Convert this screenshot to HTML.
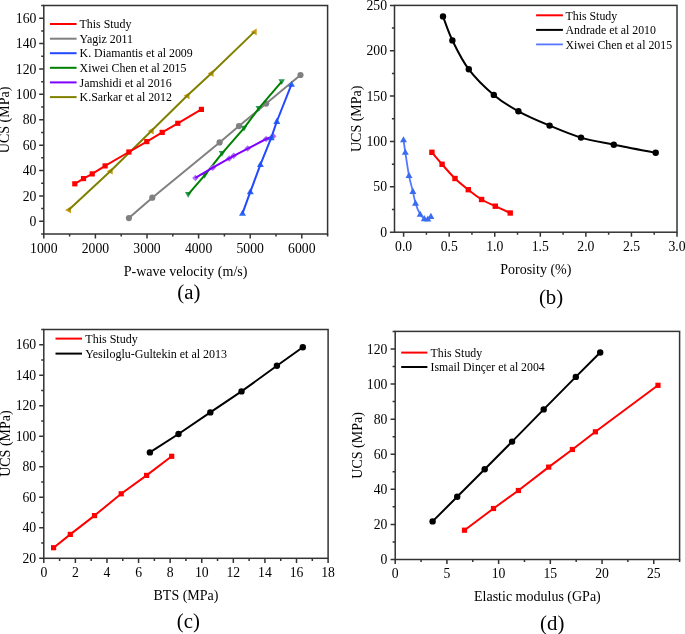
<!DOCTYPE html>
<html><head><meta charset="utf-8"><style>
html,body{margin:0;padding:0;background:#fff;}
svg{display:block;will-change:transform;}
text{font-family:"Liberation Serif",serif;fill:#000;}
</style></head><body>
<svg width="685" height="634" viewBox="0 0 685 634">
<path d="M43.8 234v4.6M95.4 234v4.6M147 234v4.6M198.6 234v4.6M250.2 234v4.6M301.8 234v4.6M69.6 234v2.6M121.2 234v2.6M172.8 234v2.6M224.4 234v2.6M276 234v2.6M327.6 234v2.6" stroke="#333" stroke-width="1.5" fill="none"/>
<text x="43.8" y="252.6" text-anchor="middle" font-size="13.7">1000</text>
<text x="95.4" y="252.6" text-anchor="middle" font-size="13.7">2000</text>
<text x="147" y="252.6" text-anchor="middle" font-size="13.7">3000</text>
<text x="198.6" y="252.6" text-anchor="middle" font-size="13.7">4000</text>
<text x="250.2" y="252.6" text-anchor="middle" font-size="13.7">5000</text>
<text x="301.8" y="252.6" text-anchor="middle" font-size="13.7">6000</text>
<path d="M43.8 221.31h-4.6M43.8 195.92h-4.6M43.8 170.53h-4.6M43.8 145.14h-4.6M43.8 119.75h-4.6M43.8 94.36h-4.6M43.8 68.97h-4.6M43.8 43.58h-4.6M43.8 18.19h-4.6M43.8 234h-2.6M43.8 208.61h-2.6M43.8 183.22h-2.6M43.8 157.83h-2.6M43.8 132.44h-2.6M43.8 107.06h-2.6M43.8 81.67h-2.6M43.8 56.28h-2.6M43.8 30.89h-2.6M43.8 5.5h-2.6" stroke="#333" stroke-width="1.5" fill="none"/>
<text x="36.4" y="225.91" text-anchor="end" font-size="13.7">0</text>
<text x="36.4" y="200.52" text-anchor="end" font-size="13.7">20</text>
<text x="36.4" y="175.13" text-anchor="end" font-size="13.7">40</text>
<text x="36.4" y="149.74" text-anchor="end" font-size="13.7">60</text>
<text x="36.4" y="124.35" text-anchor="end" font-size="13.7">80</text>
<text x="36.4" y="98.96" text-anchor="end" font-size="13.7">100</text>
<text x="36.4" y="73.57" text-anchor="end" font-size="13.7">120</text>
<text x="36.4" y="48.18" text-anchor="end" font-size="13.7">140</text>
<text x="36.4" y="22.79" text-anchor="end" font-size="13.7">160</text>
<rect x="43.8" y="5.5" width="283.8" height="228.5" fill="none" stroke="#333" stroke-width="1.5"/>
<g fill="#808080"><circle cx="128.9" cy="218.1" r="3.1"/><circle cx="152.3" cy="197.7" r="3.1"/><circle cx="219.6" cy="142.4" r="3.1"/><circle cx="239" cy="126.1" r="3.1"/><circle cx="266.2" cy="103.6" r="3.1"/><circle cx="300.5" cy="75" r="3.1"/></g>
<path d="M128.9 218.1 L152.3 197.7 L219.6 142.4 L239 126.1 L266.2 103.6 L300.5 75" stroke="#808080" stroke-width="2.0" fill="none" stroke-linejoin="round"/>
<g fill="#c89a10"><path d="M65.05 209.9L70.97 206.5L70.97 213.3Z"/><path d="M106.75 171.2L112.67 167.8L112.67 174.6Z"/><path d="M147.75 131L153.67 127.6L153.67 134.4Z"/><path d="M183.55 95.8L189.47 92.4L189.47 99.2Z"/><path d="M207.65 73.5L213.57 70.1L213.57 76.9Z"/><path d="M250.75 31.9L256.67 28.5L256.67 35.3Z"/></g>
<path d="M68.6 209.9 L110.3 171.2 L151.3 131 L187.1 95.8 L211.2 73.5 L254.3 31.9" stroke="#808000" stroke-width="2.0" fill="none" stroke-linejoin="round"/>
<g fill="#ff0000"><rect x="72.2" y="181.2" width="5.2" height="5.2"/><rect x="80.9" y="176" width="5.2" height="5.2"/><rect x="89.6" y="171.3" width="5.2" height="5.2"/><rect x="102.5" y="163.3" width="5.2" height="5.2"/><rect x="126.3" y="149.4" width="5.2" height="5.2"/><rect x="144.2" y="139" width="5.2" height="5.2"/><rect x="159.6" y="129.8" width="5.2" height="5.2"/><rect x="175.2" y="120.7" width="5.2" height="5.2"/><rect x="198.8" y="106.8" width="5.2" height="5.2"/></g>
<path d="M74.8 183.8 L83.5 178.6 L92.2 173.9 L105.1 165.9 L128.9 152 L146.8 141.6 L162.2 132.4 L177.8 123.3 L201.4 109.4" stroke="#ff0000" stroke-width="2.0" fill="none" stroke-linejoin="round"/>
<g fill="#2a9a55"><path d="M188.2 197.69L191.45 192.04L184.95 192.04Z"/><path d="M204.6 178.69L207.85 173.04L201.35 173.04Z"/><path d="M222 156.69L225.25 151.04L218.75 151.04Z"/><path d="M244 131.49L247.25 125.84L240.75 125.84Z"/><path d="M258.8 111.69L262.05 106.04L255.55 106.04Z"/><path d="M281.7 84.99L284.95 79.34L278.45 79.34Z"/></g>
<path d="M188.2 194.3 L204.6 175.3 L222 153.3 L244 128.1 L258.8 108.3 L281.7 81.6" stroke="#008000" stroke-width="2.0" fill="none" stroke-linejoin="round"/>
<g fill="#b070f8"><path d="M195.4 174.65L198.65 177.9L195.4 181.15L192.15 177.9Z"/><path d="M212.8 164.45L216.05 167.7L212.8 170.95L209.55 167.7Z"/><path d="M229.2 155.15L232.45 158.4L229.2 161.65L225.95 158.4Z"/><path d="M233.7 152.55L236.95 155.8L233.7 159.05L230.45 155.8Z"/><path d="M247.7 145.35L250.95 148.6L247.7 151.85L244.45 148.6Z"/><path d="M266.1 135.75L269.35 139L266.1 142.25L262.85 139Z"/><path d="M273.3 133.05L276.55 136.3L273.3 139.55L270.05 136.3Z"/></g>
<path d="M195.4 177.9 L212.8 167.7 L229.2 158.4 L233.7 155.8 L247.7 148.6 L266.1 139 L273.3 136.3" stroke="#8000ff" stroke-width="2.0" fill="none" stroke-linejoin="round"/>
<g fill="#2a6af2"><path d="M242.5 209.75L246 215.84L239 215.84Z"/><path d="M250.3 188.25L253.8 194.34L246.8 194.34Z"/><path d="M260.4 160.95L263.9 167.04L256.9 167.04Z"/><path d="M271.2 134.25L274.7 140.34L267.7 140.34Z"/><path d="M276.8 117.85L280.3 123.94L273.3 123.94Z"/><path d="M291.5 80.75L295 86.84L288 86.84Z"/></g>
<path d="M242.5 213.4 L250.3 191.9 L260.4 164.6 L271.2 137.9 L276.8 121.5 L291.5 84.4" stroke="#2448ff" stroke-width="2.0" fill="none" stroke-linejoin="round"/>
<path d="M49.9 24H76.6" stroke="#ff0000" stroke-width="2"/>
<text x="79.6" y="28.2" font-size="11.88">This Study</text>
<path d="M49.9 38.7H76.6" stroke="#808080" stroke-width="2"/>
<text x="79.6" y="42.9" font-size="11.88">Yagiz 2011</text>
<path d="M49.9 53.2H76.6" stroke="#2448ff" stroke-width="2"/>
<text x="79.6" y="57.4" font-size="11.88">K. Diamantis et al 2009</text>
<path d="M49.9 67.8H76.6" stroke="#008000" stroke-width="2"/>
<text x="79.6" y="72" font-size="11.88">Xiwei Chen et al 2015</text>
<path d="M49.9 82.4H76.6" stroke="#8000ff" stroke-width="2"/>
<text x="79.6" y="86.6" font-size="11.88">Jamshidi et al 2016</text>
<path d="M49.9 97.1H76.6" stroke="#808000" stroke-width="2"/>
<text x="79.6" y="101.3" font-size="11.88">K.Sarkar et al 2012</text>
<text transform="translate(9.4 119.9) rotate(-90)" text-anchor="middle" font-size="14">UCS (MPa)</text>
<text x="185.6" y="276" text-anchor="middle" font-size="14">P-wave velocity (m/s)</text>
<text x="188.8" y="298.6" text-anchor="middle" font-size="20.8">(a)</text>
<path d="M403.61 232.2v4.6M449.18 232.2v4.6M494.74 232.2v4.6M540.31 232.2v4.6M585.87 232.2v4.6M631.44 232.2v4.6M677 232.2v4.6M426.4 232.2v2.6M471.96 232.2v2.6M517.52 232.2v2.6M563.09 232.2v2.6M608.65 232.2v2.6M654.22 232.2v2.6" stroke="#333" stroke-width="1.5" fill="none"/>
<text x="403.61" y="250.7" text-anchor="middle" font-size="13.7">0.0</text>
<text x="449.18" y="250.7" text-anchor="middle" font-size="13.7">0.5</text>
<text x="494.74" y="250.7" text-anchor="middle" font-size="13.7">1.0</text>
<text x="540.31" y="250.7" text-anchor="middle" font-size="13.7">1.5</text>
<text x="585.87" y="250.7" text-anchor="middle" font-size="13.7">2.0</text>
<text x="631.44" y="250.7" text-anchor="middle" font-size="13.7">2.5</text>
<text x="677" y="250.7" text-anchor="middle" font-size="13.7">3.0</text>
<path d="M394.5 232.2h-4.6M394.5 186.84h-4.6M394.5 141.48h-4.6M394.5 96.12h-4.6M394.5 50.76h-4.6M394.5 5.4h-4.6M394.5 209.52h-2.6M394.5 164.16h-2.6M394.5 118.8h-2.6M394.5 73.44h-2.6M394.5 28.08h-2.6" stroke="#333" stroke-width="1.5" fill="none"/>
<text x="387" y="236.8" text-anchor="end" font-size="13.7">0</text>
<text x="387" y="191.44" text-anchor="end" font-size="13.7">50</text>
<text x="387" y="146.08" text-anchor="end" font-size="13.7">100</text>
<text x="387" y="100.72" text-anchor="end" font-size="13.7">150</text>
<text x="387" y="55.36" text-anchor="end" font-size="13.7">200</text>
<text x="387" y="10" text-anchor="end" font-size="13.7">250</text>
<rect x="394.5" y="5.4" width="282.5" height="226.8" fill="none" stroke="#333" stroke-width="1.5"/>
<path d="M443 16.4 C444.57 20.4 448.1 31.58 452.4 40.4 C456.7 49.22 461.9 60.22 468.8 69.3 C475.7 78.38 485.53 87.9 493.8 94.9 C502.07 101.9 509.1 106.18 518.4 111.3 C527.7 116.42 539.17 121.22 549.6 125.6 C560.03 129.98 570.3 134.42 581 137.6 C591.7 140.78 601.35 142.18 613.8 144.7 C626.25 147.22 648.72 151.37 655.7 152.7" stroke="#000" stroke-width="2.0" fill="none" stroke-linejoin="round"/>
<g fill="#000"><circle cx="443" cy="16.4" r="3.2"/><circle cx="452.4" cy="40.4" r="3.2"/><circle cx="468.8" cy="69.3" r="3.2"/><circle cx="493.8" cy="94.9" r="3.2"/><circle cx="518.4" cy="111.3" r="3.2"/><circle cx="549.6" cy="125.6" r="3.2"/><circle cx="581" cy="137.6" r="3.2"/><circle cx="613.8" cy="144.7" r="3.2"/><circle cx="655.7" cy="152.7" r="3.2"/></g>
<path d="M431.9 152.3 C433.6 154.3 438.25 159.93 442.1 164.3 C445.95 168.67 450.63 174.27 455 178.5 C459.37 182.73 463.87 186.2 468.3 189.7 C472.73 193.2 477.1 196.75 481.6 199.5 C486.1 202.25 490.53 203.95 495.3 206.2 C500.07 208.45 507.72 211.87 510.2 213" stroke="#ff0000" stroke-width="2.0" fill="none" stroke-linejoin="round"/>
<g fill="#ff0000"><rect x="429.2" y="149.6" width="5.4" height="5.4"/><rect x="439.4" y="161.6" width="5.4" height="5.4"/><rect x="452.3" y="175.8" width="5.4" height="5.4"/><rect x="465.6" y="187" width="5.4" height="5.4"/><rect x="478.9" y="196.8" width="5.4" height="5.4"/><rect x="492.6" y="203.5" width="5.4" height="5.4"/><rect x="507.5" y="210.3" width="5.4" height="5.4"/></g>
<path d="M403.5 139.8 C403.8 141.88 404.38 146.33 405.3 152.3 C406.22 158.27 407.73 169.07 409 175.6 C410.27 182.13 411.82 186.9 412.9 191.5 C413.98 196.1 414.28 199.38 415.5 203.2 C416.72 207.02 418.73 211.82 420.2 214.4 C421.67 216.98 423.03 217.92 424.3 218.7 C425.57 219.48 426.7 219.47 427.8 219.1 C428.9 218.73 430.38 216.93 430.9 216.5" stroke="#5577ff" stroke-width="1.8" fill="none" stroke-linejoin="round"/>
<g fill="#3a6cf0"><path d="M403.5 136.15L407 142.24L400 142.24Z"/><path d="M405.3 148.65L408.8 154.74L401.8 154.74Z"/><path d="M409 171.95L412.5 178.04L405.5 178.04Z"/><path d="M412.9 187.85L416.4 193.94L409.4 193.94Z"/><path d="M415.5 199.55L419 205.64L412 205.64Z"/><path d="M420.2 210.75L423.7 216.84L416.7 216.84Z"/><path d="M424.3 215.05L427.8 221.14L420.8 221.14Z"/><path d="M427.8 215.45L431.3 221.54L424.3 221.54Z"/><path d="M430.9 212.85L434.4 218.94L427.4 218.94Z"/></g>
<path d="M536.1 15.3H562.9" stroke="#ff0000" stroke-width="2"/>
<text x="565.5" y="19.5" font-size="11.85">This Study</text>
<path d="M536.1 29.9H562.9" stroke="#000" stroke-width="2"/>
<text x="565.5" y="34.1" font-size="11.85">Andrade et al 2010</text>
<path d="M536.1 44.4H562.9" stroke="#5577ff" stroke-width="1.8"/>
<text x="565.5" y="48.6" font-size="11.85">Xiwei Chen et al 2015</text>
<text transform="translate(361 118.8) rotate(-90)" text-anchor="middle" font-size="14">UCS (MPa)</text>
<text x="535.8" y="274" text-anchor="middle" font-size="14">Porosity (%)</text>
<text x="551" y="304" text-anchor="middle" font-size="20.8">(b)</text>
<path d="M43.8 558.3v4.6M75.39 558.3v4.6M106.98 558.3v4.6M138.57 558.3v4.6M170.16 558.3v4.6M201.74 558.3v4.6M233.33 558.3v4.6M264.92 558.3v4.6M296.51 558.3v4.6M328.1 558.3v4.6M59.59 558.3v2.6M91.18 558.3v2.6M122.77 558.3v2.6M154.36 558.3v2.6M185.95 558.3v2.6M217.54 558.3v2.6M249.13 558.3v2.6M280.72 558.3v2.6M312.31 558.3v2.6" stroke="#333" stroke-width="1.5" fill="none"/>
<text x="43.8" y="576.8" text-anchor="middle" font-size="13.7">0</text>
<text x="75.39" y="576.8" text-anchor="middle" font-size="13.7">2</text>
<text x="106.98" y="576.8" text-anchor="middle" font-size="13.7">4</text>
<text x="138.57" y="576.8" text-anchor="middle" font-size="13.7">6</text>
<text x="170.16" y="576.8" text-anchor="middle" font-size="13.7">8</text>
<text x="201.74" y="576.8" text-anchor="middle" font-size="13.7">10</text>
<text x="233.33" y="576.8" text-anchor="middle" font-size="13.7">12</text>
<text x="264.92" y="576.8" text-anchor="middle" font-size="13.7">14</text>
<text x="296.51" y="576.8" text-anchor="middle" font-size="13.7">16</text>
<text x="328.1" y="576.8" text-anchor="middle" font-size="13.7">18</text>
<path d="M43.8 558.3h-4.6M43.8 527.79h-4.6M43.8 497.29h-4.6M43.8 466.78h-4.6M43.8 436.27h-4.6M43.8 405.77h-4.6M43.8 375.26h-4.6M43.8 344.75h-4.6M43.8 543.05h-2.6M43.8 512.54h-2.6M43.8 482.03h-2.6M43.8 451.53h-2.6M43.8 421.02h-2.6M43.8 390.51h-2.6M43.8 360.01h-2.6M43.8 329.5h-2.6" stroke="#333" stroke-width="1.5" fill="none"/>
<text x="36.2" y="562.9" text-anchor="end" font-size="13.7">20</text>
<text x="36.2" y="532.39" text-anchor="end" font-size="13.7">40</text>
<text x="36.2" y="501.89" text-anchor="end" font-size="13.7">60</text>
<text x="36.2" y="471.38" text-anchor="end" font-size="13.7">80</text>
<text x="36.2" y="440.87" text-anchor="end" font-size="13.7">100</text>
<text x="36.2" y="410.37" text-anchor="end" font-size="13.7">120</text>
<text x="36.2" y="379.86" text-anchor="end" font-size="13.7">140</text>
<text x="36.2" y="349.35" text-anchor="end" font-size="13.7">160</text>
<rect x="43.8" y="329.5" width="284.3" height="228.8" fill="none" stroke="#333" stroke-width="1.5"/>
<path d="M149.9 452.4 L178.5 434 L210.3 412.4 L241.5 391.4 L276.9 365.8 L302.8 347.2" stroke="#000" stroke-width="2.0" fill="none" stroke-linejoin="round"/>
<g fill="#000"><circle cx="149.9" cy="452.4" r="3.2"/><circle cx="178.5" cy="434" r="3.2"/><circle cx="210.3" cy="412.4" r="3.2"/><circle cx="241.5" cy="391.4" r="3.2"/><circle cx="276.9" cy="365.8" r="3.2"/><circle cx="302.8" cy="347.2" r="3.2"/></g>
<path d="M53.6 547.7 L70.3 534.4 L94.5 515.6 L121.2 493.8 L146.6 475.4 L171.7 456.3" stroke="#ff0000" stroke-width="2.0" fill="none" stroke-linejoin="round"/>
<g fill="#ff0000"><rect x="51" y="545.1" width="5.2" height="5.2"/><rect x="67.7" y="531.8" width="5.2" height="5.2"/><rect x="91.9" y="513" width="5.2" height="5.2"/><rect x="118.6" y="491.2" width="5.2" height="5.2"/><rect x="144" y="472.8" width="5.2" height="5.2"/><rect x="169.1" y="453.7" width="5.2" height="5.2"/></g>
<path d="M55.5 338.6H82" stroke="#ff0000" stroke-width="2"/>
<text x="85.3" y="342.8" font-size="12">This Study</text>
<path d="M55.5 353.6H82" stroke="#000" stroke-width="2"/>
<text x="85.3" y="357.8" font-size="12">Yesiloglu-Gultekin et al 2013</text>
<text transform="translate(9.9 443.6) rotate(-90)" text-anchor="middle" font-size="14">UCS (MPa)</text>
<text x="186" y="600.1" text-anchor="middle" font-size="14">BTS (MPa)</text>
<text x="188.4" y="627.8" text-anchor="middle" font-size="20.8">(c)</text>
<path d="M395.2 559.5v4.6M446.91 559.5v4.6M498.62 559.5v4.6M550.33 559.5v4.6M602.04 559.5v4.6M653.75 559.5v4.6M421.05 559.5v2.6M472.76 559.5v2.6M524.47 559.5v2.6M576.18 559.5v2.6M627.89 559.5v2.6M679.6 559.5v2.6" stroke="#333" stroke-width="1.5" fill="none"/>
<text x="395.2" y="578" text-anchor="middle" font-size="13.7">0</text>
<text x="446.91" y="578" text-anchor="middle" font-size="13.7">5</text>
<text x="498.62" y="578" text-anchor="middle" font-size="13.7">10</text>
<text x="550.33" y="578" text-anchor="middle" font-size="13.7">15</text>
<text x="602.04" y="578" text-anchor="middle" font-size="13.7">20</text>
<text x="653.75" y="578" text-anchor="middle" font-size="13.7">25</text>
<path d="M395.2 559.5h-4.6M395.2 524.41h-4.6M395.2 489.32h-4.6M395.2 454.22h-4.6M395.2 419.13h-4.6M395.2 384.04h-4.6M395.2 348.95h-4.6M395.2 541.95h-2.6M395.2 506.86h-2.6M395.2 471.77h-2.6M395.2 436.68h-2.6M395.2 401.58h-2.6M395.2 366.49h-2.6M395.2 331.4h-2.6" stroke="#333" stroke-width="1.5" fill="none"/>
<text x="387.4" y="564.1" text-anchor="end" font-size="13.7">0</text>
<text x="387.4" y="529.01" text-anchor="end" font-size="13.7">20</text>
<text x="387.4" y="493.92" text-anchor="end" font-size="13.7">40</text>
<text x="387.4" y="458.82" text-anchor="end" font-size="13.7">60</text>
<text x="387.4" y="423.73" text-anchor="end" font-size="13.7">80</text>
<text x="387.4" y="388.64" text-anchor="end" font-size="13.7">100</text>
<text x="387.4" y="353.55" text-anchor="end" font-size="13.7">120</text>
<rect x="395.2" y="331.4" width="284.4" height="228.1" fill="none" stroke="#333" stroke-width="1.5"/>
<path d="M432.6 521.4 L457.2 496.8 L484.7 469.3 L512.1 441.6 L543.7 409.4 L575.8 376.9 L600.2 352.5" stroke="#000" stroke-width="2.0" fill="none" stroke-linejoin="round"/>
<g fill="#000"><circle cx="432.6" cy="521.4" r="3.2"/><circle cx="457.2" cy="496.8" r="3.2"/><circle cx="484.7" cy="469.3" r="3.2"/><circle cx="512.1" cy="441.6" r="3.2"/><circle cx="543.7" cy="409.4" r="3.2"/><circle cx="575.8" cy="376.9" r="3.2"/><circle cx="600.2" cy="352.5" r="3.2"/></g>
<path d="M464.5 530.2 L493.5 508.5 L518.4 490.5 L548.7 467.1 L572.4 449.5 L595.4 431.8 L658 385.3" stroke="#ff0000" stroke-width="2.0" fill="none" stroke-linejoin="round"/>
<g fill="#ff0000"><rect x="461.9" y="527.6" width="5.2" height="5.2"/><rect x="490.9" y="505.9" width="5.2" height="5.2"/><rect x="515.8" y="487.9" width="5.2" height="5.2"/><rect x="546.1" y="464.5" width="5.2" height="5.2"/><rect x="569.8" y="446.9" width="5.2" height="5.2"/><rect x="592.8" y="429.2" width="5.2" height="5.2"/><rect x="655.4" y="382.7" width="5.2" height="5.2"/></g>
<path d="M401.2 352.6H427.4" stroke="#ff0000" stroke-width="2"/>
<text x="430.6" y="356.8" font-size="11.82">This Study</text>
<path d="M401.2 367H427.4" stroke="#000" stroke-width="2"/>
<text x="430.6" y="371.2" font-size="11.82">Ismail Dinçer et al 2004</text>
<text transform="translate(362 445.4) rotate(-90)" text-anchor="middle" font-size="14">UCS (MPa)</text>
<text x="537.4" y="601.2" text-anchor="middle" font-size="14">Elastic modulus (GPa)</text>
<text x="552.2" y="629.6" text-anchor="middle" font-size="20.8">(d)</text>
</svg>
</body></html>
